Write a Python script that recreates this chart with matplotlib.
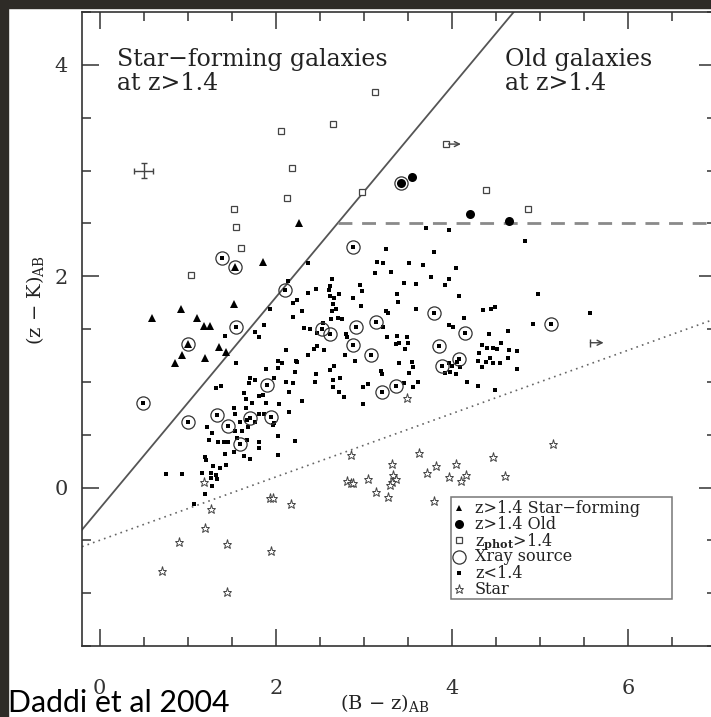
import matplotlib
matplotlib.use("Agg")
import matplotlib.pyplot as plt
from matplotlib.patches import Rectangle
from matplotlib.ticker import MultipleLocator

plt.rcParams['font.family'] = ['DejaVu Serif']
plt.rcParams['mathtext.fontset'] = 'dejavuserif'

# ---- z < 1.4 galaxies (spectroscopic) ----
lowz_x = [1.42, 1.55, 2.14, 2.20, 2.24, 1.93, 2.20, 1.87, 1.76, 1.81, 2.12, 2.23, 2.02, 2.07, 2.03,
          1.89, 2.22, 1.98, 1.71, 1.76, 2.12, 2.20, 1.69, 1.32, 1.38, 1.64, 1.81, 1.85, 2.15, 2.04,
          1.89, 1.66, 1.73, 1.66, 2.15, 1.87, 1.81, 1.53, 1.54, 1.22, 1.27, 1.98, 1.59, 1.76, 2.30,
          1.67, 1.68, 1.62, 1.54, 1.97, 2.02, 1.24, 1.34, 1.41, 1.46, 1.53, 1.56, 1.67, 1.64, 1.71,
          1.81, 1.81, 2.03, 2.22, 1.42, 1.20, 1.21, 1.29, 1.37, 1.43, 0.75, 0.93, 1.16, 1.26, 1.26,
          1.32, 1.33, 1.27, 1.20, 1.07,
          3.70, 3.97, 3.80, 3.25, 2.36, 3.15, 3.22, 3.51, 3.67, 4.05, 3.13, 3.31, 3.76, 3.96, 3.45,
          3.59, 3.92, 2.64, 2.62, 2.96, 2.98, 2.60, 2.46, 2.37, 2.72, 2.62, 2.66, 2.88, 3.38, 3.39,
          4.08, 2.65, 2.97, 2.30, 2.64, 2.68, 3.25, 3.27, 3.59, 4.35, 4.44, 4.49, 2.63, 2.71, 2.75,
          2.53, 4.14, 2.32, 2.39, 2.47, 3.22, 3.96, 4.01, 4.63, 4.42, 2.80, 2.81, 3.26, 3.38, 3.49,
          3.40, 3.50, 3.36, 3.47, 2.47, 2.43, 2.55, 2.37, 2.79, 2.90, 2.24, 2.46, 2.66, 2.61, 2.73,
          2.65, 2.44, 2.65, 2.72, 2.77, 2.99, 3.05, 2.99, 3.19, 3.20, 3.40, 3.55, 3.56, 3.51, 3.45,
          3.61, 3.56, 3.97, 4.00, 3.98, 3.92, 4.04, 4.09, 4.06, 4.17, 4.29, 4.49, 4.34, 4.40, 4.47,
          4.55, 4.31, 4.51, 4.43, 4.29, 4.38, 4.46, 4.54, 4.34, 4.64, 4.65, 4.74, 4.74,
          4.83, 4.97, 5.56, 4.92]
lowz_y = [1.43, 1.18, 1.95, 1.75, 1.77, 1.69, 1.61, 1.54, 1.47, 1.42, 1.30, 1.20, 1.20, 1.18, 1.13,
          1.12, 1.09, 1.04, 1.04, 1.02, 1.00, 0.99, 0.99, 0.94, 0.96, 0.89, 0.87, 0.88, 0.90, 0.79,
          0.80, 0.84, 0.80, 0.75, 0.71, 0.70, 0.70, 0.75, 0.70, 0.57, 0.52, 0.61, 0.62, 0.62, 0.82,
          0.64, 0.57, 0.53, 0.53, 0.59, 0.49, 0.45, 0.43, 0.43, 0.43, 0.34, 0.47, 0.45, 0.30, 0.27,
          0.43, 0.37, 0.31, 0.44, 0.32, 0.29, 0.26, 0.20, 0.18, 0.21, 0.13, 0.13, 0.14, 0.14, 0.09,
          0.12, 0.08, 0.01, -0.06, -0.16,
          2.46, 2.44, 2.23, 2.26, 2.12, 2.13, 2.12, 2.12, 2.11, 2.08, 2.03, 2.04, 1.99, 1.97, 1.94,
          1.93, 1.92, 1.97, 1.91, 1.92, 1.86, 1.87, 1.88, 1.84, 1.83, 1.81, 1.79, 1.79, 1.83, 1.76,
          1.81, 1.74, 1.72, 1.67, 1.67, 1.69, 1.67, 1.65, 1.69, 1.68, 1.69, 1.71, 1.59, 1.60, 1.59,
          1.56, 1.60, 1.51, 1.50, 1.46, 1.52, 1.54, 1.52, 1.48, 1.45, 1.45, 1.42, 1.42, 1.43, 1.42,
          1.37, 1.37, 1.36, 1.31, 1.34, 1.31, 1.30, 1.25, 1.25, 1.20, 1.19, 1.07, 1.15, 1.11, 1.04,
          1.02, 1.00, 0.95, 0.90, 0.86, 0.95, 0.98, 0.79, 1.10, 1.07, 1.18, 1.19, 1.14, 1.08, 0.99,
          1.00, 0.95, 1.18, 1.15, 1.09, 1.08, 1.07, 1.14, 1.19, 1.00, 0.96, 0.92, 1.35, 1.32, 1.32,
          1.37, 1.27, 1.31, 1.23, 1.20, 1.19, 1.18, 1.18, 1.14, 1.23, 1.30, 1.29, 1.12,
          2.33, 1.83, 1.65, 1.55]

# ---- X-ray sources at z < 1.4 ----
xray_lowz_x = [1.39, 2.10, 1.55, 0.49, 1.00, 1.90, 1.33, 1.71, 1.94, 1.46, 1.59, 2.88, 3.14,
               2.52, 2.61, 2.91, 2.88, 3.08, 3.80, 4.15, 3.85, 4.08, 3.89, 3.36, 3.21, 5.12]
xray_lowz_y = [2.17, 1.87, 1.52, 0.80, 0.62, 0.97, 0.69, 0.66, 0.67, 0.58, 0.41, 2.28, 1.57,
               1.50, 1.45, 1.52, 1.35, 1.25, 1.65, 1.46, 1.34, 1.22, 1.15, 0.96, 0.90, 1.55]

# ---- z > 1.4 star-forming galaxies ----
sf_x = [1.85, 2.26, 1.53, 0.92, 0.59, 1.11, 1.18, 1.25, 0.93, 0.85, 1.20, 1.36, 1.43, 1.54, 1.00]
sf_y = [2.13, 2.50, 1.74, 1.69, 1.60, 1.60, 1.53, 1.53, 1.25, 1.18, 1.23, 1.33, 1.28, 2.09, 1.36]

# ---- z > 1.4 old galaxies ----
old_x = [3.42, 3.54, 4.20, 4.65]
old_y = [2.88, 2.94, 2.59, 2.52]

# X-ray detections among the z > 1.4 objects
xray_hiz_x = [1.54, 1.00, 3.42]
xray_hiz_y = [2.09, 1.36, 2.88]

# ---- photometric z > 1.4 ----
phot_x = [2.06, 2.65, 3.12, 2.18, 2.13, 2.98, 4.39, 4.86, 1.53, 1.55, 1.61, 1.04, 3.93]
phot_y = [3.37, 3.44, 3.74, 3.02, 2.74, 2.80, 2.82, 2.64, 2.64, 2.47, 2.27, 2.01, 3.25]

# ---- stars ----
star_x = [2.85, 3.63, 3.32, 3.82, 4.04, 4.46, 4.60, 3.72, 3.96, 4.16, 4.10, 3.33, 3.36, 3.32,
          3.30, 2.81, 2.85, 2.88, 3.05, 3.14, 3.27, 3.79, 2.17, 1.18, 1.26, 1.20, 0.90, 1.44,
          0.71, 1.44, 1.93, 1.97, 1.95, 5.15, 3.49]
star_y = [0.31, 0.33, 0.22, 0.20, 0.22, 0.29, 0.11, 0.14, 0.10, 0.12, 0.06, 0.12, 0.08, 0.05,
          0.02, 0.06, 0.04, 0.04, 0.08, -0.04, -0.09, -0.13, -0.16, 0.05, -0.20, -0.38, -0.52,
          -0.53, -0.79, -0.99, -0.10, -0.10, -0.60, 0.41, 0.85]

# lower limits in (B - z)
limit_phot = (3.93, 3.25)
limit_lowz = (5.57, 1.37)

# typical error bar
err_pos = (0.50, 3.00)
err_size = (0.11, 0.07)

# selection boundaries
bzk_offset = -0.2                 # (z-K) = (B-z) - 0.2
star_slope, star_icpt = 0.3, -0.5  # (z-K) = 0.3 (B-z) - 0.5
old_cut = 2.5                     # (z-K) > 2.5

legend_labels = ['z>1.4 Star\u2212forming', 'z>1.4 Old', 'z$_{\\mathbf{phot}}$>1.4',
                 'Xray source', 'z<1.4', 'Star']

W, H = 711, 717
fig = plt.figure(figsize=(W / 100, H / 100), dpi=100)
fig.patch.set_facecolor('white')
# dark slide frame at the left and top edges
fig.patches.append(Rectangle((0, 0), 8 / W, 1, transform=fig.transFigure,
                             color='#2e2b27', zorder=-5))
fig.patches.append(Rectangle((0, 1 - 8 / H), 1, 8 / H, transform=fig.transFigure,
                             color='#2e2b27', zorder=-5))

ax = fig.add_axes([82 / W, 1 - 646 / H, 634.4 / W, 634 / H])
xmin, xmax, ymin, ymax = -0.2, 7.0, -1.5, 4.5
ax.set_xlim(xmin, xmax)
ax.set_ylim(ymin, ymax)

ink = '#333333'
for s in ax.spines.values():
    s.set_color(ink)
    s.set_linewidth(1.2)

ax.xaxis.set_major_locator(MultipleLocator(2))
ax.xaxis.set_minor_locator(MultipleLocator(0.5))
ax.yaxis.set_major_locator(MultipleLocator(2))
ax.yaxis.set_minor_locator(MultipleLocator(0.5))
ax.tick_params(which='both', direction='in', top=True, right=True, color=ink,
               width=1.1, labelsize=15, labelcolor=ink)
ax.tick_params(which='major', length=12)
ax.tick_params(which='minor', length=6.5)
ax.tick_params(axis='x', pad=24)
ax.tick_params(axis='y', pad=10)

# boundaries
ax.plot([xmin, xmax], [xmin + bzk_offset, xmax + bzk_offset], color='#555555', lw=1.3, zorder=1)
ax.plot([xmin, xmax], [star_slope * xmin + star_icpt, star_slope * xmax + star_icpt],
        color='#666666', lw=1.2, ls=(0, (1, 2.5)), zorder=1)
ax.plot([old_cut - bzk_offset, xmax], [old_cut, old_cut], color='#8a8a8a', lw=2,
        dashes=(5, 3.5), zorder=1)

# marker styles shared by the points and the key
sty_sf = dict(marker='^', color='black', ms=6, mew=0)
sty_old = dict(marker='o', color='black', ms=6.5, mew=0)
sty_phot = dict(marker='s', mfc='white', mec='#444444', ms=5, mew=0.9)
sty_xray = dict(marker='o', mfc='none', mec='#333333', ms=9.5, mew=0.9)
sty_lowz = dict(marker='s', color='black', ms=2.8, mew=0)
sty_star = dict(marker='*', mfc='white', mec='#444444', ms=6.5, mew=0.7)

# points
ax.plot(lowz_x, lowz_y, ls='none', zorder=3, **sty_lowz)
ax.plot(xray_lowz_x, xray_lowz_y, ls='none', zorder=3, **sty_lowz)
ax.plot(xray_lowz_x + xray_hiz_x, xray_lowz_y + xray_hiz_y, ls='none', zorder=4, **sty_xray)
ax.plot(sf_x, sf_y, ls='none', zorder=3, **sty_sf)
ax.plot(old_x, old_y, ls='none', zorder=3, **sty_old)
ax.plot(phot_x, phot_y, ls='none', zorder=3, **sty_phot)
ax.plot(star_x, star_y, ls='none', zorder=3, **sty_star)

# lower-limit arrows
ax.annotate('', xy=(limit_phot[0] + 0.17, limit_phot[1]), xytext=(limit_phot[0] + 0.03, limit_phot[1]),
            arrowprops=dict(arrowstyle='->', color='#444444', lw=1, shrinkA=0, shrinkB=0,
                            mutation_scale=9))
ax.plot([limit_lowz[0]], [limit_lowz[1]], '|', color='#444444', ms=6, mew=1)
ax.annotate('', xy=(limit_lowz[0] + 0.15, limit_lowz[1]), xytext=limit_lowz,
            arrowprops=dict(arrowstyle='->', color='#444444', lw=1, shrinkA=0, shrinkB=0,
                            mutation_scale=9))

# typical uncertainty
ax.errorbar([err_pos[0]], [err_pos[1]], xerr=[err_size[0]], yerr=[err_size[1]], fmt='none',
            ecolor='#444444', elinewidth=1, capsize=2.5, capthick=1)

# region annotations
txt_kw = dict(fontsize=17, color='#222222', va='baseline', ha='left')
ax.text(0.20, 3.99, 'Star\u2212forming galaxies', **txt_kw)
ax.text(0.20, 3.76, 'at z>1.4', **txt_kw)
ax.text(4.60, 3.99, 'Old galaxies', **txt_kw)
ax.text(4.60, 3.76, 'at z>1.4', **txt_kw)

# axis labels
ax.set_xlabel('(B \u2212 z)$_{\\mathrm{AB}}$', fontsize=14, color='#222222', va='center')
ax.xaxis.set_label_coords(0.478, -0.09)
ax.set_ylabel('(z \u2212 K)$_{\\mathrm{AB}}$', fontsize=14, color='#222222', va='center')
ax.yaxis.set_label_coords(-0.074, 0.546)

# key box (axes fractions)
box_x0, box_x1, box_y0, box_y1 = 0.582, 0.930, 0.074, 0.235
ax.add_patch(Rectangle((box_x0, box_y0), box_x1 - box_x0, box_y1 - box_y0,
                       transform=ax.transAxes, facecolor='white', edgecolor='#777777',
                       lw=1.1, zorder=6))
key_styles = [dict(sty_sf, ms=5), sty_old, sty_phot, sty_xray, sty_lowz, sty_star]
row0, step = 0.2177, 0.0256
for i, (lab, sty) in enumerate(zip(legend_labels, key_styles)):
    yc = row0 - i * step
    ax.plot([0.594], [yc], ls='none', transform=ax.transAxes, zorder=7, clip_on=False, **sty)
    ax.text(0.6195, yc - 0.0075, lab, transform=ax.transAxes, fontsize=11.5, color='#222222',
            va='baseline', ha='left', zorder=7)

fig.text(8 / W, 1 - 712 / H, 'Daddi et al 2004', fontsize=21.8, family='Lato',
         color='black', ha='left', va='baseline')

fig.savefig('out.png', dpi=100, facecolor='white')
